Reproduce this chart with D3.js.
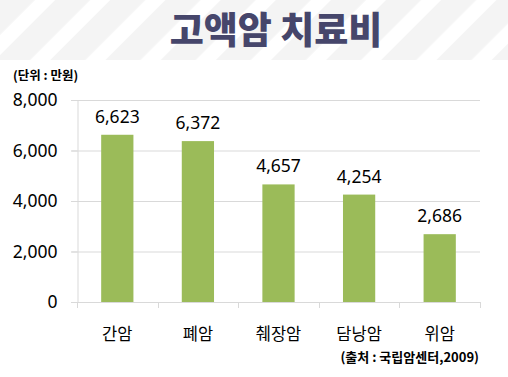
<!DOCTYPE html>
<html>
<head>
<meta charset="utf-8">
<script src="https://cdn.jsdelivr.net/npm/d3@7"></script>
<style>
  body { margin: 0; background: #fff; }
  svg { display: block; font-family: "Noto Sans CJK KR", "Noto Sans", sans-serif; }
</style>
</head>
<body>
<div id="chart"></div>
<script>
// 고액암 치료비 (단위: 만원)
var categories = ["간암", "폐암", "췌장암", "담낭암", "위암"];
var costs = [6623, 6372, 4657, 4254, 2686];
var yTicks = [0, 2000, 4000, 6000, 8000];

var width = 508, height = 377;
var margin = { top: 100, right: 28, bottom: 75, left: 77 };

var svg = d3.select("#chart").append("svg")
  .attr("width", width)
  .attr("height", height);

// header band with diagonal stripes
var defs = svg.append("defs");
var pat = defs.append("pattern")
  .attr("id", "stripes")
  .attr("patternUnits", "userSpaceOnUse")
  .attr("width", 39).attr("height", 39)
  .attr("patternTransform", "rotate(45)");
pat.append("rect").attr("width", 39).attr("height", 39).attr("fill", "#f4f4f4");
pat.append("rect").attr("x", 24.7).attr("width", 14.3).attr("height", 39).attr("fill", "#ffffff");

svg.append("rect")
  .attr("x", 0).attr("y", 0)
  .attr("width", width).attr("height", 60)
  .attr("fill", "url(#stripes)");

svg.append("text")
  .attr("x", 276).attr("y", 44)
  .attr("text-anchor", "middle")
  .style("font-size", "37px")
  .style("font-weight", "900")
  .style("fill", "#46466b")
  .text("고액암 치료비");

var innerW = width - margin.left - margin.right;
var innerH = height - margin.top - margin.bottom;

var x = d3.scaleBand()
  .domain(categories)
  .range([margin.left, margin.left + innerW])
  .paddingInner(0.6)
  .paddingOuter(0.3);

var y = d3.scaleLinear()
  .domain([0, 8000])
  .range([margin.top + innerH, margin.top]);

// gridlines
svg.append("g")
  .selectAll("line")
  .data(yTicks)
  .enter().append("line")
  .attr("x1", margin.left - 6)
  .attr("x2", margin.left + innerW)
  .attr("y1", function(d) { return y(d) + 0.5; })
  .attr("y2", function(d) { return y(d) + 0.5; })
  .attr("stroke", "#d9d9d9")
  .attr("stroke-width", 1);

// y axis
var yAxis = svg.append("g")
  .attr("transform", "translate(" + (margin.left + 0.5) + ",0)")
  .call(d3.axisLeft(y).tickValues(yTicks).tickSize(6).tickPadding(14).tickFormat(d3.format(",")));
yAxis.select(".domain").attr("stroke", "#d9d9d9");
yAxis.selectAll(".tick line").attr("stroke", "#d9d9d9");
yAxis.selectAll("text")
  .style("font-size", "17.5px")
  .style("fill", "#000")
  .style("font-family", "'Noto Sans', 'Noto Sans CJK KR', sans-serif");

// bars
svg.append("g")
  .selectAll("rect")
  .data(costs)
  .enter().append("rect")
  .attr("x", function(d, i) { return x(categories[i]); })
  .attr("y", function(d) { return y(d); })
  .attr("width", x.bandwidth())
  .attr("height", function(d) { return y(0) - y(d); })
  .attr("fill", "#9bbb59");

// value labels
svg.append("g")
  .selectAll("text")
  .data(costs)
  .enter().append("text")
  .attr("x", function(d, i) { return x(categories[i]) + x.bandwidth() / 2; })
  .attr("y", function(d) { return y(d) - 12; })
  .attr("text-anchor", "middle")
  .style("font-size", "17.5px")
  .style("font-family", "'Noto Sans', 'Noto Sans CJK KR', sans-serif")
  .style("fill", "#000")
  .text(d3.format(","));

// x axis
var step = x.step();
var bounds = d3.range(categories.length + 1).map(function(i) { return margin.left + i * step; });
var xAxisG = svg.append("g");
xAxisG.append("line")
  .attr("x1", margin.left).attr("x2", margin.left + innerW)
  .attr("y1", y(0) + 0.5).attr("y2", y(0) + 0.5)
  .attr("stroke", "#d9d9d9");
xAxisG.selectAll(".xt")
  .data(bounds)
  .enter().append("line")
  .attr("x1", function(d) { return Math.round(d) + 0.5; })
  .attr("x2", function(d) { return Math.round(d) + 0.5; })
  .attr("y1", y(0))
  .attr("y2", y(0) + 6)
  .attr("stroke", "#d9d9d9");
xAxisG.selectAll(".xl")
  .data(categories)
  .enter().append("text")
  .attr("x", function(d) { return x(d) + x.bandwidth() / 2; })
  .attr("y", y(0) + 38)
  .attr("text-anchor", "middle")
  .style("font-size", "16.5px")
  .style("fill", "#000")
  .text(function(d) { return d; });

// unit and source notes
svg.append("text")
  .attr("x", 13).attr("y", 80)
  .style("font-size", "12.5px")
  .style("font-weight", "bold")
  .style("fill", "#000")
  .text("(단위 : 만원)");

svg.append("text")
  .attr("x", 479).attr("y", 362)
  .attr("text-anchor", "end")
  .style("font-size", "13px")
  .style("font-weight", "bold")
  .style("fill", "#000")
  .text("(출처 : 국립암센터,2009)");
</script>
</body>
</html>
